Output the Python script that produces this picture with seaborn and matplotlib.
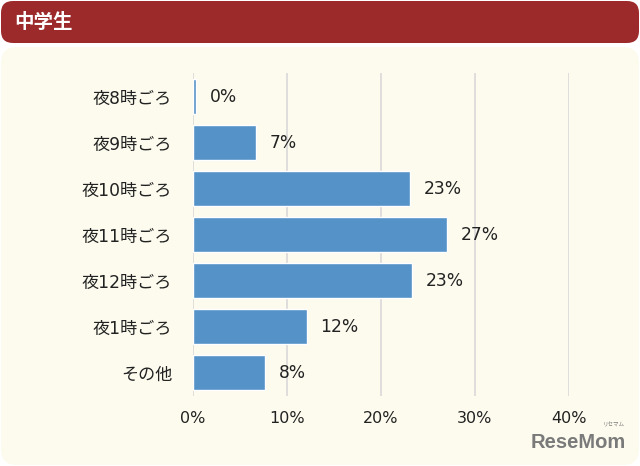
import matplotlib
matplotlib.use('Agg')
import matplotlib.pyplot as plt
import seaborn as sns
from matplotlib.patches import FancyBboxPatch

# データ
title = '中学生'
categories = ['夜8時ごろ', '夜9時ごろ', '夜10時ごろ', '夜11時ごろ', '夜12時ごろ', '夜1時ごろ', 'その他']
values = [0.3, 6.7, 23.1, 27.0, 23.3, 12.1, 7.7]
value_labels = ['0%', '7%', '23%', '27%', '23%', '12%', '8%']
ticks = [0, 10, 20, 30, 40]
tick_labels = ['0%', '10%', '20%', '30%', '40%']

sns.set_style('white')
plt.rcParams['font.family'] = ['DejaVu Sans', 'Noto Sans CJK JP']

fig = plt.figure(figsize=(6.4, 4.66), dpi=100)
fig.patch.set_facecolor('white')

# 背景パネルとヘッダー
panel = FancyBboxPatch((0.01, 0.01), 6.38, 4.18, boxstyle='round,pad=0,rounding_size=0.16',
                       transform=fig.dpi_scale_trans, facecolor='#fdfbee', edgecolor='none', zorder=-2)
fig.patches.append(panel)
header = FancyBboxPatch((0.01, 4.23), 6.38, 0.42, boxstyle='round,pad=0,rounding_size=0.12',
                        transform=fig.dpi_scale_trans, facecolor='#9c2a2b', edgecolor='none', zorder=-2)
fig.patches.append(header)
fig.text(14/640, 1 - 22/466, title, color='white', fontsize=14, fontweight='bold', va='center', ha='left',
         family=['Noto Sans CJK JP', 'DejaVu Sans'])

ax = fig.add_axes([193/640, 70/466, 376/640, 322.5/466])
ax.set_facecolor('none')
sns.barplot(x=values, y=categories, orient='h', color='#5592c8', saturation=1, width=0.76, ax=ax, zorder=3)

for i, (v, lab) in enumerate(zip(values, value_labels)):
    ax.text(v + 1.45, i, lab, va='center', ha='left', fontsize=12.3, color='#222222')

ax.set_xlim(0, 40)
ax.set_ylim(6.5, -0.5)
ax.set_xticks(ticks)
ax.set_xticklabels(tick_labels)
ax.grid(axis='x', color='#d9d9d9', lw=1.2, zorder=0)
ax.set_axisbelow(True)
for s in ax.spines.values():
    s.set_visible(False)
ax.tick_params(axis='x', length=0, pad=11, labelsize=11.5, labelcolor='#222222')
ax.tick_params(axis='y', length=0, pad=15, labelsize=12.3, labelcolor='#222222')
ax.set_xlabel('')
ax.set_ylabel('')

fig.text(626/640, 1 - 443/466, 'ReseMom', color='#7a7a7a', fontsize=14.5, fontweight='bold',
         ha='right', va='center', family=['Liberation Sans', 'DejaVu Sans'])
fig.text(614/640, 1 - 425/466, 'リセマム', color='#7a7a7a', fontsize=4,
         ha='center', va='center', family=['Noto Sans CJK JP'])

fig.savefig('out.png', dpi=100, facecolor=fig.get_facecolor())
